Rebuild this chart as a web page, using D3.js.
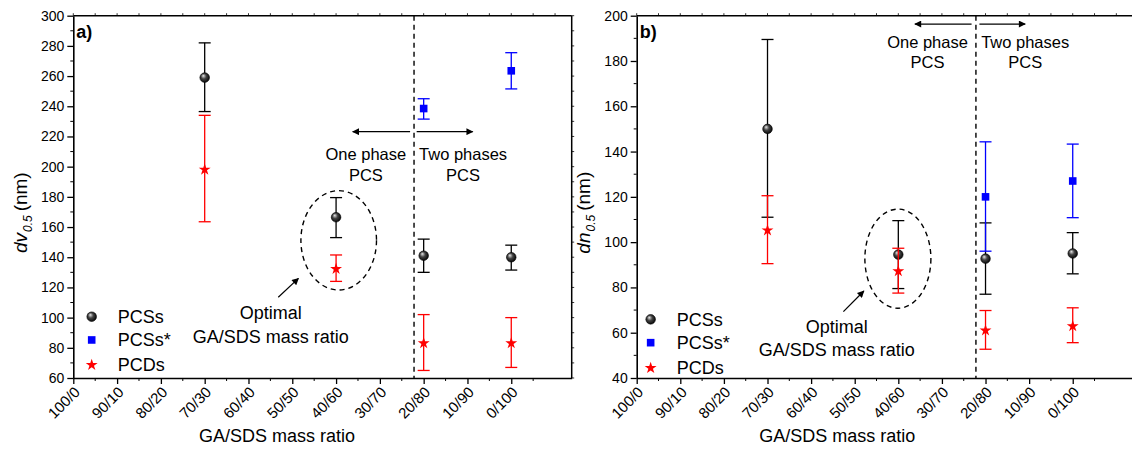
<!DOCTYPE html>
<html>
<head>
<meta charset="utf-8">
<script src="https://cdn.jsdelivr.net/npm/d3@7"></script>
<style>
  html, body { margin: 0; padding: 0; background: #fff; }
  svg { display: block; font-family: "Liberation Sans", Arial, sans-serif; }
</style>
</head>
<body>
<svg id="chart" width="1132" height="455"></svg>
<script>
// GA/SDS mass ratio categories (x axis)
const categories = ["100/0", "90/10", "80/20", "70/30", "60/40", "50/50", "40/60", "30/70", "20/80", "10/90", "0/100"];

// panel a) dv0.5 (nm): mean with low / high of error bar
const dvPCSs = [
  { ratio: "70/30", mean: 259, low: 236.5, high: 282 },
  { ratio: "40/60", mean: 166.5, low: 153, high: 179.5 },
  { ratio: "20/80", mean: 141, low: 130, high: 152 },
  { ratio: "0/100", mean: 140, low: 131.5, high: 148 }
];
const dvPCSsStar = [
  { ratio: "20/80", mean: 238.5, low: 231.5, high: 245 },
  { ratio: "0/100", mean: 263.5, low: 251.5, high: 275.5 }
];
const dvPCDs = [
  { ratio: "70/30", mean: 198.5, low: 163.5, high: 234 },
  { ratio: "40/60", mean: 132.7, low: 124, high: 141.5 },
  { ratio: "20/80", mean: 83.5, low: 65, high: 102 },
  { ratio: "0/100", mean: 83.5, low: 67, high: 100 }
];

// panel b) dn0.5 (nm)
const dnPCSs = [
  { ratio: "70/30", mean: 150, low: 111, high: 189.5 },
  { ratio: "40/60", mean: 94.5, low: 79.5, high: 109.5 },
  { ratio: "20/80", mean: 92.7, low: 77, high: 108.5 },
  { ratio: "0/100", mean: 95, low: 86, high: 104.2 }
];
const dnPCSsStar = [
  { ratio: "20/80", mean: 120, low: 96, high: 144.3 },
  { ratio: "0/100", mean: 127, low: 110.8, high: 143.3 }
];
const dnPCDs = [
  { ratio: "70/30", mean: 105.5, low: 90.5, high: 120.5 },
  { ratio: "40/60", mean: 87.5, low: 77.5, high: 97.3 },
  { ratio: "20/80", mean: 61.3, low: 52.7, high: 69.8 },
  { ratio: "0/100", mean: 63.2, low: 55.6, high: 71 }
];

const dvTicks = [60, 80, 100, 120, 140, 160, 180, 200, 220, 240, 260, 280, 300];
const dnTicks = [40, 60, 80, 100, 120, 140, 160, 180, 200];

// one/two phase boundary, in category index units
const phaseBoundary = 7.78;

const seriesNames = ["PCSs", "PCSs*", "PCDs"];
const seriesColors = ["#000", "#0000ff", "#ff0000"];

const svg = d3.select("#chart");

// sphere gradient for PCSs marker
const defs = svg.append("defs");
const grad = defs.append("radialGradient")
  .attr("id", "sphere")
  .attr("cx", "45%").attr("cy", "45%").attr("r", "60%")
  .attr("fx", "35%").attr("fy", "30%");
grad.append("stop").attr("offset", "0%").attr("stop-color", "#e8e8e8");
grad.append("stop").attr("offset", "45%").attr("stop-color", "#444");
grad.append("stop").attr("offset", "100%").attr("stop-color", "#000");

defs.append("marker")
  .attr("id", "arrowhead")
  .attr("viewBox", "0 0 10 10")
  .attr("refX", 9).attr("refY", 5)
  .attr("markerWidth", 12).attr("markerHeight", 7)
  .attr("markerUnits", "userSpaceOnUse")
  .attr("orient", "auto")
  .append("path")
  .attr("d", "M0,0 L10,5 L0,10 Z")
  .attr("fill", "#000");

function drawMarker(g, kind, x, y) {
  if (kind === 0) {
    g.append("circle").attr("cx", x).attr("cy", y).attr("r", 4.8)
      .attr("fill", "url(#sphere)").attr("stroke", "#000").attr("stroke-width", 0.6);
  } else if (kind === 1) {
    g.append("rect").attr("x", x - 3.8).attr("y", y - 3.8)
      .attr("width", 7.6).attr("height", 7.6).attr("fill", seriesColors[1]);
  } else {
    g.append("path")
      .attr("d", d3.symbol(d3.symbolStar, 44)())
      .attr("transform", `translate(${x},${y + 0.7})`)
      .attr("fill", seriesColors[2]);
  }
}

function drawPanel(p) {
  const g = svg.append("g").attr("transform", `translate(${p.left},${p.top})`);
  const x = d3.scaleLinear().domain([0, 11.38]).range([0, p.width]);
  const y = d3.scaleLinear().domain(p.yDomain).range([p.height, 0]);
  const idx = (r) => categories.indexOf(r);

  // frame (top & right)
  g.append("line").attr("x1", 0).attr("x2", p.width).attr("y1", 0).attr("y2", 0)
    .attr("stroke", "#000").attr("stroke-width", 1.5);
  g.append("line").attr("x1", p.width).attr("x2", p.width).attr("y1", 0).attr("y2", p.height)
    .attr("stroke", "#000").attr("stroke-width", 1.5);
  // minor ticks on top and right
  const topTicks = d3.range(0, 11.4, 0.5);
  g.selectAll(".tt").data(topTicks).join("line")
    .attr("x1", (d) => x(d)).attr("x2", (d) => x(d)).attr("y1", 0).attr("y2", -2.5)
    .attr("stroke", "#000").attr("stroke-width", 0.8);
  const rightTicks = d3.range(p.yDomain[0], p.yDomain[1] + 1, 10);
  g.selectAll(".rt").data(rightTicks).join("line")
    .attr("x1", p.width).attr("x2", p.width + 2.5).attr("y1", (d) => y(d)).attr("y2", (d) => y(d))
    .attr("stroke", "#000").attr("stroke-width", 0.8);

  // minor ticks on left and bottom
  g.selectAll(".lm").data(rightTicks.filter((d) => d % 20 !== 0)).join("line")
    .attr("x1", 0).attr("x2", -3).attr("y1", (d) => y(d)).attr("y2", (d) => y(d))
    .attr("stroke", "#000").attr("stroke-width", 1);
  g.selectAll(".bm").data(d3.range(0.5, 11.4, 1)).join("line")
    .attr("x1", (d) => x(d)).attr("x2", (d) => x(d)).attr("y1", p.height).attr("y2", p.height + 3)
    .attr("stroke", "#000").attr("stroke-width", 1);

  // y axis
  const yAxis = g.append("g").call(
    d3.axisLeft(y).tickValues(p.yTicks).tickSize(6).tickSizeOuter(0).tickPadding(3)
  );
  yAxis.select(".domain").attr("stroke-width", 1.6);
  yAxis.selectAll(".tick line").attr("stroke-width", 1.3);
  yAxis.selectAll("text").attr("font-size", 14).attr("fill", "#000")
    .attr("font-family", "Liberation Sans, Arial, sans-serif");

  // x axis
  const xAxis = g.append("g").attr("transform", `translate(0,${p.height})`).call(
    d3.axisBottom(x).tickValues(d3.range(0, 11)).tickFormat((i) => categories[i])
      .tickSize(6).tickSizeOuter(0)
  );
  xAxis.select(".domain").attr("stroke-width", 1.6);
  xAxis.selectAll(".tick line").attr("stroke-width", 1.3);
  xAxis.selectAll("text")
    .attr("font-size", 15).attr("fill", "#000")
    .attr("font-family", "Liberation Sans, Arial, sans-serif")
    .attr("text-anchor", "end")
    .attr("dy", null).attr("y", null)
    .attr("transform", "translate(7,15) rotate(-45)");

  // axis titles
  g.append("text")
    .attr("x", x(p.xTitleAt)).attr("y", p.height + 64)
    .attr("text-anchor", "middle").attr("font-size", 18)
    .text("GA/SDS mass ratio");
  const yl = g.append("text")
    .attr("transform", `translate(${p.yTitleX},${p.yTitleY}) rotate(-90)`)
    .attr("text-anchor", "middle").attr("font-size", 19);
  yl.append("tspan").attr("font-style", "italic").text(p.yVar);
  yl.append("tspan").attr("font-style", "italic").attr("font-size", 12)
    .attr("dy", 5).attr("dx", 1).text("0.5");
  yl.append("tspan").attr("dy", -5).attr("dx", 4).text("(nm)");

  // panel letter
  g.append("text").attr("x", 3).attr("y", 22).attr("font-size", 18).attr("font-weight", "bold")
    .text(p.letter);

  // phase boundary
  g.append("line")
    .attr("x1", x(phaseBoundary)).attr("x2", x(phaseBoundary))
    .attr("y1", 0).attr("y2", p.height)
    .attr("stroke", "#000").attr("stroke-width", 1.4).attr("stroke-dasharray", "5,4");

  // phase arrows
  const a = p.ann;
  g.append("line")
    .attr("x1", x(a.arrowL[0])).attr("x2", x(a.arrowL[1]))
    .attr("y1", y(a.arrowY)).attr("y2", y(a.arrowY))
    .attr("stroke", "#000").attr("stroke-width", 1.4).attr("marker-end", "url(#arrowhead)");
  g.append("line")
    .attr("x1", x(a.arrowR[0])).attr("x2", x(a.arrowR[1]))
    .attr("y1", y(a.arrowY)).attr("y2", y(a.arrowY))
    .attr("stroke", "#000").attr("stroke-width", 1.4).attr("marker-end", "url(#arrowhead)");

  function twoLines(cx, v1, v2, l1, l2, size) {
    g.append("text").attr("x", x(cx)).attr("y", y(v1)).attr("dy", "0.35em")
      .attr("text-anchor", "middle").attr("font-size", size).text(l1);
    g.append("text").attr("x", x(cx)).attr("y", y(v2)).attr("dy", "0.35em")
      .attr("text-anchor", "middle").attr("font-size", size).text(l2);
  }
  twoLines(a.oneX, a.line1, a.line2, "One phase", "PCS", 16.5);
  twoLines(a.twoX, a.line1, a.line2, "Two phases", "PCS", 16.5);
  twoLines(a.optX, a.opt1, a.opt2, "Optimal", "GA/SDS mass ratio", 18);

  // optimal ellipse + pointer
  g.append("ellipse")
    .attr("cx", x(a.ell[0])).attr("cy", y(a.ell[1]))
    .attr("rx", x(a.ell[2]) - x(0)).attr("ry", y(0 + p.yDomain[0]) - y(a.ell[3] + p.yDomain[0]))
    .attr("fill", "none").attr("stroke", "#000").attr("stroke-width", 1.4)
    .attr("stroke-dasharray", "5,4");
  g.append("line")
    .attr("x1", x(a.ptr[0])).attr("y1", y(a.ptr[1]))
    .attr("x2", x(a.ptr[2])).attr("y2", y(a.ptr[3]))
    .attr("stroke", "#000").attr("stroke-width", 1.2).attr("marker-end", "url(#arrowhead)");

  // error bars + markers, drawn PCSs, PCSs*, PCDs
  p.series.forEach((data, k) => {
    const col = seriesColors[k];
    const s = g.append("g");
    data.forEach((d) => {
      const cx = x(idx(d.ratio));
      s.append("line").attr("x1", cx).attr("x2", cx)
        .attr("y1", y(d.low)).attr("y2", y(d.high))
        .attr("stroke", col).attr("stroke-width", 1.3);
      [d.low, d.high].forEach((v) => {
        s.append("line").attr("x1", cx - 6).attr("x2", cx + 6)
          .attr("y1", y(v)).attr("y2", y(v))
          .attr("stroke", col).attr("stroke-width", 1.3);
      });
    });
    data.forEach((d) => drawMarker(s, k, x(idx(d.ratio)), y(d.mean)));
  });

  // legend
  seriesNames.forEach((name, k) => {
    const ly = y(p.legendY[k]);
    drawMarker(g, k, x(p.legendX), ly);
    g.append("text").attr("x", x(p.legendX) + 26).attr("y", ly).attr("dy", "0.36em")
      .attr("font-size", 18).text(name);
  });
}

drawPanel({
  left: 73.3, top: 15.7, width: 498.4, height: 362.3,
  yDomain: [60, 300], yTicks: dvTicks, yVar: "dv", letter: "a)",
  yTitleX: -46, yTitleY: 197, xTitleAt: 4.65,
  series: [dvPCSs, dvPCSsStar, dvPCDs],
  legendX: 0.42, legendY: [100.6, 85.2, 69.1],
  ann: {
    arrowY: 223.2, arrowL: [7.69, 6.38], arrowR: [7.84, 9.12],
    oneX: 6.68, twoX: 8.9, line1: 208, line2: 194,
    optX: 4.51, opt1: 103.1, opt2: 87.4,
    ell: [6.06, 151.2, 0.863, 32.9],
    ptr: [4.68, 113.5, 5.14, 126.0]
  }
});

drawPanel({
  left: 636.7, top: 15.7, width: 496.2, height: 362.3,
  yDomain: [40, 200], yTicks: dnTicks, yVar: "dn", letter: "b)",
  yTitleX: -47, yTitleY: 197, xTitleAt: 4.6,
  series: [dnPCSs, dnPCSsStar, dnPCDs],
  legendX: 0.32, legendY: [65.9, 55.6, 44.7],
  ann: {
    arrowY: 196.3, arrowL: [7.68, 6.38], arrowR: [7.86, 8.91],
    oneX: 6.67, twoX: 8.91, line1: 188.5, line2: 179.6,
    optX: 4.59, opt1: 62.7, opt2: 52.4,
    ell: [5.99, 92.7, 0.757, 21.9],
    ptr: [4.74, 69.3, 5.21, 78.4]
  }
});
</script>
</body>
</html>
